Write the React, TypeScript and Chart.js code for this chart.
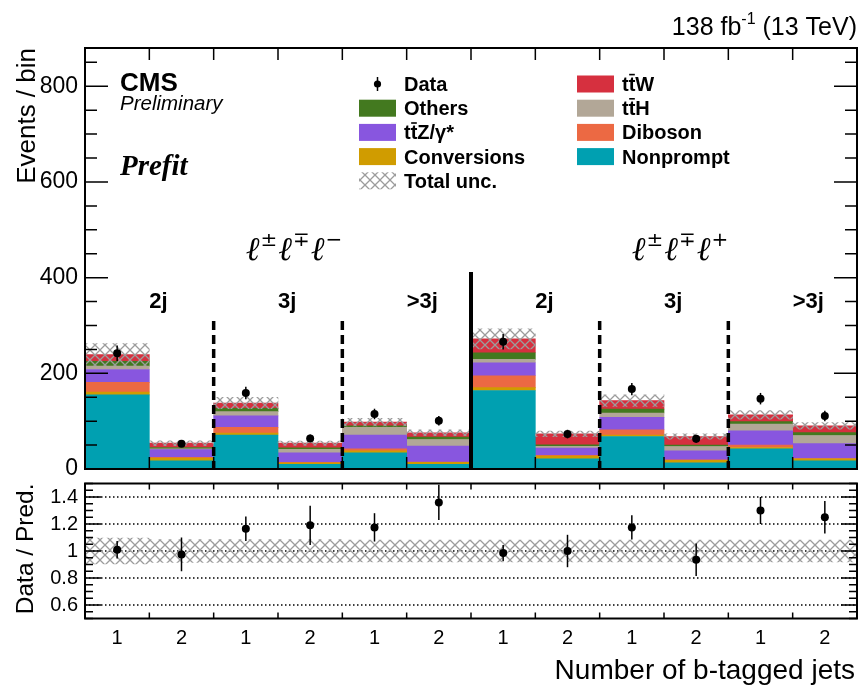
import React, { useEffect, useRef } from 'react';
import { Chart, registerables } from 'chart.js';
Chart.register(...registerables);

// ---------------- data ----------------
const bins = ['2j-1b', '2j-2b', '3j-1b', '3j-2b', '>3j-1b', '>3j-2b', '2j-1b+', '2j-2b+', '3j-1b+', '3j-2b+', '>3j-1b+', '>3j-2b+'];
const bTagLabels = ['1', '2', '1', '2', '1', '2', '1', '2', '1', '2', '1', '2'];
const groupLabels = ['2j', '3j', '>3j', '2j', '3j', '>3j'];

// stacked predictions (bottom to top)
const nonprompt = [155, 17, 71, 10, 34, 10, 164, 21, 68, 13, 42, 17];
const conversions = [6, 6, 4, 3, 4, 4, 6, 6, 3, 5, 3, 4];
const diboson = [20, 1.5, 12, 1, 4, 0.7, 25, 1.5, 11, 1, 5, 1];
const ttZ = [27, 16, 24, 20, 29, 33, 27, 15, 26, 19, 30, 31];
const ttH = [7, 1.5, 9, 7, 16, 14, 7, 4, 9, 9, 14, 17];
const others = [10, 3, 7, 3, 3, 5, 14, 3, 8, 3, 5, 6];
const ttW = [14, 9, 11, 10, 8, 9, 29, 23, 18, 18, 14, 14];

const dataVals = [242, 53, 159, 64, 115, 101, 266, 73, 167, 63, 147, 111];
const dataErr = [16, 7, 13, 8, 11, 10, 16, 9, 13, 8, 12, 11];
const totalUnc = [23, 5, 12, 4.5, 8, 6, 21, 6, 12, 5.5, 9, 7];

const ratioVals = [1.01, 0.975, 1.165, 1.19, 1.175, 1.36, 0.985, 1.0, 1.175, 0.935, 1.3, 1.25];
const ratioErr = [0.065, 0.125, 0.09, 0.145, 0.105, 0.13, 0.06, 0.12, 0.09, 0.12, 0.1, 0.12];
const ratioUnc = [0.095, 0.085, 0.085, 0.085, 0.08, 0.08, 0.08, 0.08, 0.08, 0.08, 0.08, 0.08];

const mainTicks = [0, 200, 400, 600, 800];
const ratioTicks = [0.6, 0.8, 1, 1.2, 1.4];

const COL = {
  nonprompt: '#00A0B1',
  conversions: '#D09C00',
  diboson: '#EC6943',
  ttZ: '#8856DF',
  ttH: '#B2A797',
  others: '#43791F',
  ttW: '#D6303F',
};

const SANS = '"Liberation Sans", Arial, Helvetica, sans-serif';
const SERIF = '"Liberation Serif", "Times New Roman", serif';

function makeHatch(): any {
  const c = document.createElement('canvas');
  c.width = 10;
  c.height = 10;
  const g = c.getContext('2d')!;
  g.strokeStyle = '#9c9c9c';
  g.lineWidth = 1.3;
  g.beginPath();
  g.moveTo(0, 0); g.lineTo(10, 10);
  g.moveTo(10, 0); g.lineTo(0, 10);
  g.stroke();
  return g.createPattern(c, 'repeat');
}

function drawTT(ctx: CanvasRenderingContext2D, x: number, y: number, rest: string, size: number) {
  // "t t-bar rest"
  const w1 = ctx.measureText('t').width;
  ctx.fillText('t', x, y);
  ctx.fillText('t', x + w1, y);
  ctx.save();
  ctx.lineWidth = Math.max(1.5, size * 0.08);
  ctx.strokeStyle = '#000';
  ctx.beginPath();
  ctx.moveTo(x + w1 + 0.5, y - size * 0.82);
  ctx.lineTo(x + 2 * w1 - 0.5, y - size * 0.82);
  ctx.stroke();
  ctx.restore();
  ctx.fillText(rest, x + 2 * w1, y);
}

export default function App() {
  const mainRef = useRef<HTMLCanvasElement>(null);
  const ratioRef = useRef<HTMLCanvasElement>(null);

  useEffect(() => {
    const hatch = makeHatch();
    const comps = [
      { label: 'Nonprompt', data: nonprompt, color: COL.nonprompt },
      { label: 'Conversions', data: conversions, color: COL.conversions },
      { label: 'Diboson', data: diboson, color: COL.diboson },
      { label: 'ttZ', data: ttZ, color: COL.ttZ },
      { label: 'ttH', data: ttH, color: COL.ttH },
      { label: 'Others', data: others, color: COL.others },
      { label: 'ttW', data: ttW, color: COL.ttW },
    ];
    const total = bins.map((_, i) => comps.reduce((s, c) => s + c.data[i], 0));
    const uncBand = total.map((t, i) => [t - totalUnc[i], t + totalUnc[i]]);
    const ratioBand = ratioUnc.map((u) => [1 - u, 1 + u]);

    const mainPlugin = {
      id: 'mainDeco',
      afterDatasetsDraw(chart: any) {
        const ctx = chart.ctx as CanvasRenderingContext2D;
        const xs = chart.scales.x, ys = chart.scales.yd;
        ctx.save();
        ctx.strokeStyle = '#000';
        ctx.lineWidth = 1.5;
        dataVals.forEach((v, i) => {
          const x = xs.getPixelForValue(i);
          ctx.beginPath();
          ctx.moveTo(x, ys.getPixelForValue(v - dataErr[i]));
          ctx.lineTo(x, ys.getPixelForValue(v + dataErr[i]));
          ctx.stroke();
        });
        ctx.restore();
      },
      afterDraw(chart: any) {
        const ctx = chart.ctx as CanvasRenderingContext2D;
        const xs = chart.scales.x, ys = chart.scales.y;
        const L = xs.left, R = xs.right, T = ys.top, B = ys.bottom;
        const bx = (k: number) => xs.getPixelForDecimal(k / 12);
        ctx.save();
        ctx.strokeStyle = '#000';
        ctx.fillStyle = '#000';
        // separators
        ctx.lineWidth = 3.5;
        ctx.setLineDash([9, 5]);
        [2, 4, 8, 10].forEach((k) => {
          ctx.beginPath();
          ctx.moveTo(bx(k), 321);
          ctx.lineTo(bx(k), B);
          ctx.stroke();
        });
        ctx.setLineDash([]);
        ctx.lineWidth = 4;
        ctx.beginPath();
        ctx.moveTo(bx(6), 272);
        ctx.lineTo(bx(6), B);
        ctx.stroke();
        // ticks
        ctx.lineWidth = 1.5;
        for (let v = 0; v <= 880; v += 50) {
          const y = ys.getPixelForValue(v);
          const len = v % 200 === 0 ? 23 : 12;
          ctx.beginPath();
          ctx.moveTo(L, y); ctx.lineTo(L + len, y);
          ctx.moveTo(R, y); ctx.lineTo(R - len, y);
          ctx.stroke();
        }
        for (let k = 1; k < 12; k++) {
          const x = bx(k);
          ctx.beginPath();
          ctx.moveTo(x, T); ctx.lineTo(x, T + 12);
          ctx.moveTo(x, B); ctx.lineTo(x, B - 12);
          ctx.stroke();
        }
        // frame
        ctx.lineWidth = 2;
        ctx.strokeRect(L, T, R - L, B - T);

        // group labels
        ctx.textAlign = 'left';
        ctx.textBaseline = 'alphabetic';
        ctx.font = `bold 22px ${SANS}`;
        groupLabels.forEach((g, j) => {
          ctx.fillText(g, bx(2 * j + 1), 308);
        });

        // lepton labels
        const drawLep = (x0: number, sups: string[]) => {
          let x = x0;
          sups.forEach((s) => {
            ctx.font = `italic 33px "DejaVu Serif", ${SERIF}`;
            ctx.fillText('\u2113', x, 260);
            x += ctx.measureText('\u2113').width + 1;
            ctx.font = `20px "DejaVu Sans", ${SANS}`;
            ctx.fillText(s, x, 246);
            x += ctx.measureText(s).width + 1;
          });
        };
        drawLep(bx(2.5), ['\u00b1', '\u2213', '\u2212']);
        drawLep(bx(8.5), ['\u00b1', '\u2213', '+']);

        // CMS labels
        ctx.font = `bold 26px ${SANS}`;
        ctx.fillText('CMS', 120, 91);
        ctx.font = `italic 20.5px ${SANS}`;
        ctx.fillText('Preliminary', 120, 110);
        ctx.font = `bold italic 29px ${SERIF}`;
        ctx.fillText('Prefit', 120, 175);

        // header
        ctx.font = `25px ${SANS}`;
        const part3 = ' (13 TeV)';
        const w3 = ctx.measureText(part3).width;
        ctx.font = `16px ${SANS}`;
        const w2 = ctx.measureText('-1').width;
        ctx.font = `25px ${SANS}`;
        const w1 = ctx.measureText('138 fb').width;
        let hx = 857 - w3 - w2 - w1;
        ctx.fillText('138 fb', hx, 35);
        ctx.font = `16px ${SANS}`;
        ctx.fillText('-1', hx + w1, 24);
        ctx.font = `25px ${SANS}`;
        ctx.fillText(part3, hx + w1 + w2, 35);

        // y title
        ctx.save();
        ctx.translate(35, T);
        ctx.rotate(-Math.PI / 2);
        ctx.textAlign = 'right';
        ctx.font = `26px ${SANS}`;
        ctx.fillText('Events / bin', 0, 0);
        ctx.restore();

        // legend
        const rowY = (i: number) => 84 + i * 24.2;
        const c1b = 359, c1t = 404, c2b = 577, c2t = 622, bw = 37, bh = 17;
        ctx.font = `bold 20px ${SANS}`;
        ctx.textAlign = 'left';
        // Data
        ctx.beginPath();
        ctx.arc(c1b + bw / 2, rowY(0), 3.6, 0, Math.PI * 2);
        ctx.fill();
        ctx.lineWidth = 1.5;
        ctx.beginPath();
        ctx.moveTo(c1b + bw / 2, rowY(0) - 7);
        ctx.lineTo(c1b + bw / 2, rowY(0) + 7);
        ctx.stroke();
        ctx.fillText('Data', c1t, rowY(0) + 7);
        const box = (x: number, i: number, color: any) => {
          ctx.fillStyle = color;
          ctx.fillRect(x, rowY(i) - bh / 2, bw, bh);
          ctx.fillStyle = '#000';
        };
        box(c1b, 1, COL.others);
        ctx.fillText('Others', c1t, rowY(1) + 7);
        box(c1b, 2, COL.ttZ);
        drawTT(ctx, c1t, rowY(2) + 7, 'Z/\u03b3*', 20);
        box(c1b, 3, COL.conversions);
        ctx.fillText('Conversions', c1t, rowY(3) + 7);
        box(c1b, 4, hatch);
        ctx.fillText('Total unc.', c1t, rowY(4) + 7);
        box(c2b, 0, COL.ttW);
        drawTT(ctx, c2t, rowY(0) + 7, 'W', 20);
        box(c2b, 1, COL.ttH);
        drawTT(ctx, c2t, rowY(1) + 7, 'H', 20);
        box(c2b, 2, COL.diboson);
        ctx.fillText('Diboson', c2t, rowY(2) + 7);
        box(c2b, 3, COL.nonprompt);
        ctx.fillText('Nonprompt', c2t, rowY(3) + 7);
        ctx.restore();
      },
    };

    const ratioPlugin = {
      id: 'ratioDeco',
      beforeDatasetsDraw(chart: any) {
        const ctx = chart.ctx as CanvasRenderingContext2D;
        const xs = chart.scales.x, ys = chart.scales.y;
        ctx.save();
        ctx.strokeStyle = '#000';
        ctx.lineWidth = 1.5;
        ctx.setLineDash([1.5, 2.5]);
        ratioTicks.forEach((v) => {
          const y = ys.getPixelForValue(v);
          ctx.beginPath();
          ctx.moveTo(xs.left, y);
          ctx.lineTo(xs.right, y);
          ctx.stroke();
        });
        ctx.restore();
      },
      afterDatasetsDraw(chart: any) {
        const ctx = chart.ctx as CanvasRenderingContext2D;
        const xs = chart.scales.x, ys = chart.scales.y;
        ctx.save();
        ctx.strokeStyle = '#000';
        ctx.lineWidth = 1.5;
        ratioVals.forEach((v, i) => {
          const x = xs.getPixelForValue(i);
          ctx.beginPath();
          ctx.moveTo(x, ys.getPixelForValue(v - ratioErr[i]));
          ctx.lineTo(x, ys.getPixelForValue(v + ratioErr[i]));
          ctx.stroke();
        });
        ctx.restore();
      },
      afterDraw(chart: any) {
        const ctx = chart.ctx as CanvasRenderingContext2D;
        const xs = chart.scales.x, ys = chart.scales.y;
        const L = xs.left, R = xs.right, T = ys.top, B = ys.bottom;
        const bx = (k: number) => xs.getPixelForDecimal(k / 12);
        ctx.save();
        ctx.strokeStyle = '#000';
        ctx.fillStyle = '#000';
        ctx.lineWidth = 1.5;
        for (let n = 10; n <= 30; n++) {
          const v = n * 0.05;
          const y = ys.getPixelForValue(v);
          const len = n % 4 === 0 ? 16 : 8;
          ctx.beginPath();
          ctx.moveTo(L, y); ctx.lineTo(L + len, y);
          ctx.moveTo(R, y); ctx.lineTo(R - len, y);
          ctx.stroke();
        }
        for (let k = 1; k < 12; k++) {
          const x = bx(k);
          ctx.beginPath();
          ctx.moveTo(x, T); ctx.lineTo(x, T + 6);
          ctx.moveTo(x, B); ctx.lineTo(x, B - 6);
          ctx.stroke();
        }
        ctx.lineWidth = 2;
        ctx.strokeRect(L, T, R - L, B - T);

        ctx.save();
        ctx.translate(33, T);
        ctx.rotate(-Math.PI / 2);
        ctx.textAlign = 'right';
        ctx.font = `24.5px ${SANS}`;
        ctx.fillText('Data / Pred.', 0, 0);
        ctx.restore();

        ctx.textAlign = 'right';
        ctx.font = `28px ${SANS}`;
        ctx.fillText('Number of b-tagged jets', 855, 679);
        ctx.restore();
      },
    };

    const main = new Chart(mainRef.current!, {
      type: 'bar',
      data: {
        labels: bins,
        datasets: [
          {
            type: 'line',
            label: 'Data',
            data: dataVals,
            yAxisID: 'yd',
            showLine: false,
            pointRadius: 4,
            pointHoverRadius: 4,
            pointBackgroundColor: '#000',
            pointBorderColor: '#000',
            pointBorderWidth: 0,
            borderColor: '#000',
          } as any,
          {
            type: 'bar',
            label: 'Total unc.',
            data: uncBand,
            yAxisID: 'yd',
            backgroundColor: hatch,
            borderWidth: 0,
            grouped: false,
            stack: 'unc',
            barPercentage: 1,
            categoryPercentage: 1,
          } as any,
          ...comps.map((c) => ({
            type: 'bar',
            label: c.label,
            data: c.data,
            yAxisID: 'y',
            backgroundColor: c.color,
            borderWidth: 0,
            stack: 'mc',
            barPercentage: 1,
            categoryPercentage: 1,
          })) as any,
        ],
      },
      options: {
        responsive: false,
        animation: false,
        devicePixelRatio: 1,
        layout: { padding: { top: 48, right: 3, bottom: 219, left: 0 } },
        plugins: { legend: { display: false }, tooltip: { enabled: false } },
        scales: {
          x: { type: 'category', display: false, stacked: true, offset: true },
          y: {
            type: 'linear',
            stacked: true,
            min: 0,
            max: 880,
            afterFit: (s: any) => { s.width = 85; },
            afterBuildTicks: (s: any) => { s.ticks = mainTicks.map((v) => ({ value: v })); },
            grid: { display: false, drawTicks: false },
            border: { display: false },
            ticks: { color: '#000', font: { family: SANS, size: 23 }, padding: 7 },
          },
          yd: { type: 'linear', display: false, stacked: false, min: 0, max: 880 },
        } as any,
      },
      plugins: [mainPlugin],
    } as any);

    const ratio = new Chart(ratioRef.current!, {
      type: 'bar',
      data: {
        labels: bTagLabels,
        datasets: [
          {
            type: 'line',
            label: 'Data / Pred.',
            data: ratioVals,
            showLine: false,
            pointRadius: 4,
            pointHoverRadius: 4,
            pointBackgroundColor: '#000',
            pointBorderColor: '#000',
            pointBorderWidth: 0,
            borderColor: '#000',
          } as any,
          {
            type: 'bar',
            label: 'Total unc.',
            data: ratioBand,
            backgroundColor: hatch,
            borderWidth: 0,
            grouped: false,
            barPercentage: 1,
            categoryPercentage: 1,
          } as any,
        ],
      },
      options: {
        responsive: false,
        animation: false,
        devicePixelRatio: 1,
        layout: { padding: { top: 483.5, right: 3, bottom: 0, left: 0 } },
        plugins: { legend: { display: false }, tooltip: { enabled: false } },
        scales: {
          x: {
            type: 'category',
            offset: true,
            afterFit: (s: any) => { s.height = 69.5; },
            grid: { display: false, drawTicks: false },
            border: { display: false },
            ticks: { color: '#000', font: { family: SANS, size: 20 }, padding: 8, autoSkip: false, maxRotation: 0 },
          },
          y: {
            type: 'linear',
            min: 0.5,
            max: 1.5,
            afterFit: (s: any) => { s.width = 85; },
            afterBuildTicks: (s: any) => { s.ticks = ratioTicks.map((v) => ({ value: v })); },
            grid: { display: false, drawTicks: false },
            border: { display: false },
            ticks: { color: '#000', font: { family: SANS, size: 20 }, padding: 7, callback: (v: any) => String(v) },
          },
        } as any,
      },
      plugins: [ratioPlugin],
    } as any);

    return () => {
      main.destroy();
      ratio.destroy();
    };
  }, []);

  return (
    <div style={{ position: 'absolute', left: 0, top: 0, width: 861, height: 688, background: '#fff' }}>
      <canvas ref={mainRef} width={861} height={688} style={{ position: 'absolute', left: 0, top: 0 }} />
      <canvas ref={ratioRef} width={861} height={688} style={{ position: 'absolute', left: 0, top: 0 }} />
    </div>
  );
}
